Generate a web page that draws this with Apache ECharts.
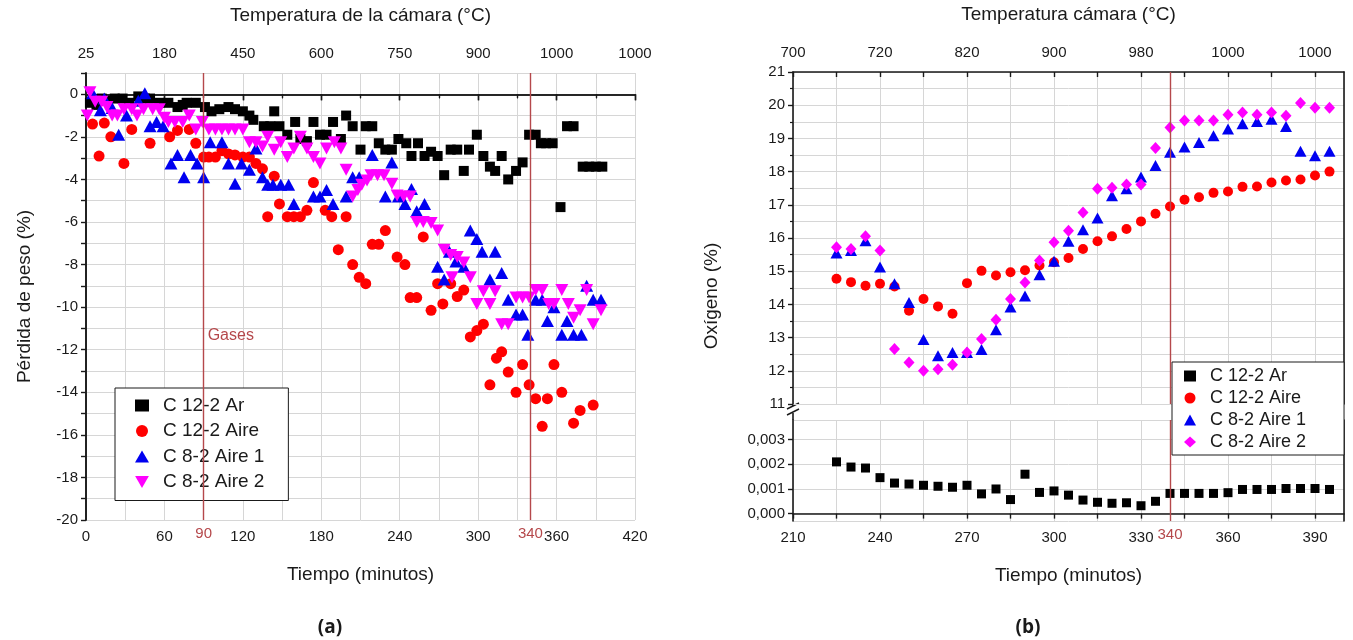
<!DOCTYPE html>
<html>
<head>
<meta charset="utf-8">
<script src="https://cdn.jsdelivr.net/npm/echarts@6/dist/echarts.min.js"></script>
<style>
  html, body { margin: 0; padding: 0; background: #fff; }
  #chart { width: 1353px; height: 640px; }
</style>
</head>
<body>
<div id="chart"></div>
<script>
// ---- Panel (a): weight loss (%) against time (min) ----
const seriesNames = ['C 12-2 Ar', 'C 12-2 Aire', 'C 8-2 Aire 1', 'C 8-2 Aire 2'];

const lossAr12 = [[3,-0.4],[8,-0.5],[12,-0.2],[16,-0.3],[22,-0.2],[28,-0.2],[33,-0.4],[40,-0.1],[45,-0.2],[49,-0.2],[56,-0.4],[63,-0.4],[70,-0.6],[74,-0.5],[77,-0.4],[84,-0.4],[91,-0.6],[96,-0.8],[102,-0.7],[109,-0.6],[114,-0.7],[120,-0.8],[125,-1.0],[128,-1.2],[136,-1.5],[141,-1.5],[144,-0.8],[148,-1.5],[154,-1.9],[160,-1.3],[164,-2.1],[169,-2.2],[174,-1.3],[179,-1.9],[184,-1.9],[189,-1.3],[195,-2.1],[199,-1.0],[204,-1.5],[210,-2.6],[214,-1.5],[219,-1.5],[224,-2.3],[229,-2.6],[234,-2.6],[239,-2.1],[245,-2.3],[249,-2.9],[254,-2.3],[259,-2.9],[264,-2.7],[269,-2.9],[274,-3.8],[279,-2.6],[284,-2.6],[289,-3.6],[293,-2.6],[299,-1.9],[304,-2.9],[309,-3.4],[313,-3.6],[318,-2.9],[323,-4.0],[329,-3.6],[334,-3.2],[339,-1.9],[344,-1.9],[348,-2.3],[352,-2.3],[357,-2.3],[363,-5.3],[368,-1.5],[373,-1.5],[380,-3.4],[385,-3.4],[390,-3.4],[395,-3.4]];

const lossAire12 = [[5,-1.4],[10,-2.9],[14,-1.35],[19,-2.0],[29,-3.25],[35,-1.65],[49,-2.3],[64,-2.0],[70,-1.7],[79,-1.65],[84,-2.3],[90,-2.95],[94,-2.95],[99,-2.95],[104,-2.65],[109,-2.8],[114,-2.85],[120,-2.95],[125,-2.95],[130,-3.25],[135,-3.5],[139,-5.75],[144,-3.85],[148,-5.15],[154,-5.75],[159,-5.75],[164,-5.75],[169,-5.45],[174,-4.15],[183,-5.45],[188,-5.75],[193,-7.3],[199,-5.75],[204,-8.0],[209,-8.6],[214,-8.9],[219,-7.05],[224,-7.05],[229,-6.4],[238,-7.65],[244,-8.0],[248,-9.55],[253,-9.55],[258,-6.7],[264,-10.15],[269,-8.9],[273,-9.85],[279,-8.9],[284,-9.5],[289,-9.2],[294,-11.4],[299,-11.1],[304,-10.8],[309,-13.65],[314,-12.4],[318,-12.1],[323,-13.05],[329,-14.0],[334,-12.7],[339,-13.65],[344,-14.3],[349,-15.6],[353,-14.3],[358,-12.7],[364,-14.0],[373,-15.45],[378,-14.85],[388,-14.6]];

const lossAire8a = [[5,0.05],[11,-0.75],[14,-0.2],[20,-0.65],[25,-1.9],[31,-1.0],[40,-0.3],[45,0.05],[49,-1.5],[54,-1.3],[59,-1.5],[65,-3.25],[70,-2.85],[75,-3.9],[80,-2.85],[85,-3.25],[90,-3.9],[95,-2.25],[104,-2.25],[109,-3.25],[114,-4.2],[119,-3.25],[125,-3.55],[130,-2.55],[135,-3.9],[139,-4.25],[143,-4.25],[149,-4.25],[155,-4.25],[159,-5.15],[174,-4.8],[179,-4.8],[184,-4.5],[189,-5.15],[199,-4.8],[204,-3.9],[209,-3.9],[219,-2.85],[229,-4.8],[234,-3.2],[239,-4.8],[244,-5.15],[249,-4.45],[253,-5.5],[259,-5.15],[269,-8.1],[274,-8.7],[278,-7.4],[283,-7.85],[289,-8.1],[294,-6.4],[299,-6.8],[303,-7.4],[309,-8.7],[313,-7.4],[318,-8.4],[323,-9.65],[329,-10.35],[334,-10.35],[338,-11.3],[344,-9.65],[349,-9.65],[353,-10.65],[358,-10.0],[364,-11.3],[368,-10.65],[373,-11.3],[379,-11.3],[383,-9.0],[388,-9.65],[394,-9.65]];

const lossAire8b = [[1,-1.0],[3,0.1],[7,-0.35],[12,-0.35],[16,-0.6],[20,-1.0],[24,-1.0],[29,-0.7],[35,-0.7],[39,-1.0],[44,-0.7],[51,-0.7],[56,-0.7],[60,-1.1],[63,-1.3],[68,-1.3],[74,-1.3],[79,-1.0],[84,-1.65],[89,-1.3],[94,-1.65],[99,-1.65],[104,-1.65],[109,-1.65],[114,-1.65],[120,-1.65],[125,-2.25],[130,-2.25],[135,-2.45],[139,-2.0],[144,-2.6],[149,-2.25],[154,-2.95],[159,-2.55],[164,-2.0],[169,-2.55],[174,-2.95],[179,-3.25],[184,-2.55],[190,-2.25],[195,-2.55],[199,-3.55],[204,-4.8],[208,-4.5],[211,-4.25],[215,-4.05],[218,-3.8],[223,-3.8],[228,-3.8],[234,-4.2],[238,-4.75],[243,-4.8],[248,-4.8],[253,-6.0],[258,-6.0],[264,-6.05],[269,-6.4],[274,-7.3],[279,-7.55],[280,-8.6],[284,-7.65],[289,-7.9],[294,-8.6],[299,-9.85],[304,-9.25],[309,-9.85],[313,-9.25],[318,-10.8],[323,-10.8],[329,-9.55],[334,-9.55],[339,-9.55],[344,-9.2],[349,-9.2],[354,-9.85],[358,-9.85],[364,-9.2],[369,-9.85],[373,-10.5],[378,-10.15],[383,-9.2],[388,-10.8],[394,-10.15]];

const lossTimeTicks = [0, 60, 120, 180, 240, 300, 360, 420];
const chamberTempA = ['25', '180', '450', '600', '750', '900', '1000', '1000'];

// ---- Panel (b): oxygen (%) against time (min) ----
const oxTime = [225,230,235,240,245,250,255,260,265,270,275,280,285,290,295,300,305,310,315,320,325,330,335,340,345,350,355,360,365,370,375,380,385,390,395];
const oxAr12 = [0.0021,0.00189,0.00185,0.00146,0.00124,0.0012,0.00115,0.00111,0.00107,0.00115,0.0008,0.001,0.00057,0.0016,0.00086,0.00092,0.00075,0.00055,0.00046,0.00042,0.00044,0.00032,0.0005,0.00082,0.00082,0.00082,0.00082,0.00085,0.00098,0.00098,0.00098,0.00102,0.00102,0.00102,0.00098];
const oxAire12 = [14.77,14.67,14.56,14.62,14.54,13.81,14.16,13.94,13.72,14.64,15.01,14.87,14.97,15.03,15.17,15.27,15.4,15.67,15.9,16.05,16.27,16.5,16.73,16.95,17.15,17.23,17.36,17.4,17.54,17.55,17.67,17.73,17.76,17.88,18.0];
const oxAire8a = [15.55,15.62,15.92,15.13,14.62,14.06,12.94,12.45,12.55,12.55,12.64,13.24,13.92,14.25,14.89,15.3,15.9,16.25,16.6,17.27,17.48,17.84,18.18,18.58,18.74,18.88,19.08,19.28,19.44,19.51,19.58,19.36,18.61,18.48,18.61];
const oxAire8b = [15.72,15.67,16.05,15.62,12.66,12.25,12.0,12.05,12.18,12.55,12.96,13.54,14.16,14.66,15.32,15.87,16.22,16.77,17.48,17.51,17.61,17.61,18.71,19.33,19.54,19.54,19.54,19.71,19.78,19.71,19.78,19.68,20.07,19.92,19.92];

const chamberTempB = ['700', '720', '820', '900', '980', '1000', '1000'];

// marker times shared by both panels
const gasStart = 90;
const gasEnd = 340;

// ---- styling ----
const FONT = '"Liberation Sans", Arial, sans-serif';
const INK = '#1a1a1a';
const RULE = '#b5484b';
const GRIDC = '#d6d6d6';
const COLORS = ['#000000', '#ff0000', '#0000f0', '#ff00ff'];
const downTriangle = 'path://M0,0 L10,0 L5,8.7 Z';

const pair = (xs, ys) => xs.map((x, i) => [x, ys[i]]);

const lineAxis = { lineStyle: { color: INK, width: 1.6 } };
const tickLabel = { color: INK, fontSize: 15, fontFamily: FONT };

const chart = echarts.init(document.getElementById('chart'), null, { renderer: 'canvas' });

const ruleLine = (xs, showLabel) => ({
  silent: true,
  symbol: 'none',
  lineStyle: { color: RULE, width: 1.4, type: 'solid' },
  label: {
    show: showLabel, position: 'start', distance: 6,
    color: RULE, fontSize: 15, fontFamily: FONT, formatter: p => String(p.value)
  },
  data: xs.map(x => ({ xAxis: x }))
});

const dot = color => ({ color: color, opacity: 1 });

const option = {
  animation: false,
  backgroundColor: '#ffffff',
  grid: [
    { left: 86, top: 73, width: 549, height: 447 },
    { left: 793, top: 72, width: 551, height: 332 },
    { left: 793, top: 420, width: 551, height: 101 }
  ],
  xAxis: [
    { // (a) bottom: time
      gridIndex: 0, type: 'value', position: 'bottom', min: 0, max: 420, interval: 60,
      axisLine: lineAxis, axisTick: { length: 6, lineStyle: { color: INK, width: 1.4 } },
      minorTick: { show: true, splitNumber: 2, length: 4, lineStyle: { color: INK, width: 1.2 } },
      splitLine: { show: true, lineStyle: { color: GRIDC } },
      minorSplitLine: { show: true, lineStyle: { color: GRIDC } },
      axisLabel: Object.assign({ margin: 9 }, tickLabel),
      name: 'Tiempo (minutos)', nameLocation: 'middle', nameGap: 45,
      nameTextStyle: { fontSize: 19, color: INK, fontFamily: FONT }
    },
    { // (a) top: chamber temperature
      gridIndex: 0, type: 'value', position: 'top', min: 0, max: 420, interval: 60,
      axisLine: lineAxis, axisTick: { inside: true, length: 6, lineStyle: { color: INK, width: 1.4 } },
      minorTick: { show: true, splitNumber: 2, length: 4, lineStyle: { color: INK, width: 1.2 } },
      splitLine: { show: false },
      axisLabel: Object.assign({ margin: 12, formatter: v => chamberTempA[lossTimeTicks.indexOf(v)] ?? '' }, tickLabel),
      name: 'Temperatura de la cámara (°C)', nameLocation: 'middle', nameGap: 48,
      nameTextStyle: { fontSize: 19, color: INK, fontFamily: FONT }
    },
    { // (b) top: chamber temperature
      gridIndex: 1, type: 'value', position: 'top', min: 210, max: 400, interval: 15,
      axisLine: lineAxis, axisTick: { inside: true, length: 5, lineStyle: { color: INK, width: 1.4 } },
      splitLine: { show: true, lineStyle: { color: GRIDC } },
      axisLabel: Object.assign({
        margin: 12, showMaxLabel: false,
        formatter: v => (v - 210) % 30 === 0 ? (chamberTempB[(v - 210) / 30] ?? '') : ''
      }, tickLabel),
      name: 'Temperatura cámara (°C)', nameLocation: 'middle', nameGap: 48,
      nameTextStyle: { fontSize: 19, color: INK, fontFamily: FONT }
    },
    { // (b) bottom: time
      gridIndex: 2, type: 'value', position: 'bottom', min: 210, max: 400, interval: 15,
      axisLine: lineAxis, axisTick: { length: 5, lineStyle: { color: INK, width: 1.4 } },
      splitLine: { show: true, lineStyle: { color: GRIDC } },
      axisLabel: Object.assign({
        margin: 9, showMaxLabel: false,
        formatter: v => (v - 210) % 30 === 0 ? String(v) : ''
      }, tickLabel),
      name: 'Tiempo (minutos)', nameLocation: 'middle', nameGap: 45,
      nameTextStyle: { fontSize: 19, color: INK, fontFamily: FONT }
    }
  ],
  yAxis: [
    { // (a) weight loss
      gridIndex: 0, type: 'value', min: -20, max: 1, interval: 1,
      axisLine: lineAxis, axisTick: { length: 5, lineStyle: { color: INK, width: 1.4 } },
      splitLine: { show: true, lineStyle: { color: GRIDC } },
      axisLabel: Object.assign({ margin: 8, formatter: v => (v <= 0 && v % 2 === 0) ? String(v) : '' }, tickLabel),
      name: 'Pérdida de peso (%)', nameLocation: 'middle', nameGap: 52, nameRotate: 90,
      nameTextStyle: { fontSize: 19, color: INK, fontFamily: FONT }
    },
    { // (a) right frame edge
      gridIndex: 0, type: 'value', position: 'right', min: -20, max: 1,
      axisLine: lineAxis, axisTick: { show: false }, axisLabel: { show: false }, splitLine: { show: false }
    },
    { // (b) oxygen, upper segment
      gridIndex: 1, type: 'value', min: 11, max: 21, interval: 1,
      axisLine: lineAxis, axisTick: { length: 5, lineStyle: { color: INK, width: 1.4 } },
      minorTick: { show: true, splitNumber: 2, length: 3, lineStyle: { color: INK, width: 1.2 } },
      splitLine: { show: true, lineStyle: { color: GRIDC } },
      minorSplitLine: { show: true, lineStyle: { color: GRIDC } },
      axisLabel: Object.assign({ margin: 8 }, tickLabel)
    },
    { // (b) upper right frame edge
      gridIndex: 1, type: 'value', position: 'right', min: 11, max: 21,
      axisLine: lineAxis, axisTick: { show: false }, axisLabel: { show: false }, splitLine: { show: false }
    },
    { // (b) oxygen, lower segment (argon run)
      gridIndex: 2, type: 'value', min: -0.0003, max: 0.0038, splitNumber: 4,
      axisLine: lineAxis, axisTick: { length: 5, lineStyle: { color: INK, width: 1.4 } },
      splitLine: { show: true, lineStyle: { color: GRIDC } },
      axisLabel: Object.assign({
        margin: 8, showMinLabel: false, showMaxLabel: false,
        formatter: v => v >= 0 ? v.toFixed(3).replace('.', ',') : ''
      }, tickLabel)
    },
    { // (b) lower right frame edge
      gridIndex: 2, type: 'value', position: 'right', min: -0.0003, max: 0.0038,
      axisLine: lineAxis, axisTick: { show: false }, axisLabel: { show: false }, splitLine: { show: false }
    }
  ],
  legend: [
    {
      left: 115, top: 388, orient: 'vertical', itemGap: 6.5,
      itemWidth: 14, itemHeight: 12,
      padding: [8, 24, 9, 20],
      borderColor: INK, borderWidth: 1, backgroundColor: '#fff',
      textStyle: { fontSize: 19, color: INK, fontFamily: FONT, padding: [0, 0, 0, 9] },
      data: seriesNames
    },
    {
      left: 1172, top: 362, orient: 'vertical', itemGap: 4,
      itemWidth: 12, itemHeight: 11,
      padding: [5, 38, 4, 12],
      borderColor: INK, borderWidth: 1, backgroundColor: '#fff',
      textStyle: { fontSize: 18, color: INK, fontFamily: FONT, padding: [0, 0, 0, 9] },
      data: [
        { name: seriesNames[0], icon: 'rect' },
        { name: seriesNames[1], icon: 'circle' },
        { name: seriesNames[2], icon: 'triangle' },
        { name: seriesNames[3], icon: 'diamond' }
      ]
    }
  ],
  series: [
    // panel (a)
    { name: seriesNames[0], type: 'scatter', xAxisIndex: 0, yAxisIndex: 0, data: lossAr12,
      symbol: 'rect', symbolSize: 10, itemStyle: dot(COLORS[0]),
      markLine: ruleLine([gasStart, gasEnd], true),
      markPoint: {
        silent: true, symbol: 'circle', symbolSize: 0,
        label: { show: true, position: 'right', distance: 4, formatter: 'Gases', color: RULE, fontSize: 16, fontFamily: FONT },
        data: [{ coord: [gasStart, -11.36] }]
      }
    },
    { name: seriesNames[1], type: 'scatter', xAxisIndex: 0, yAxisIndex: 0, data: lossAire12,
      symbol: 'circle', symbolSize: 11, itemStyle: dot(COLORS[1]) },
    { name: seriesNames[2], type: 'scatter', xAxisIndex: 0, yAxisIndex: 0, data: lossAire8a,
      symbol: 'triangle', symbolSize: [13, 12], itemStyle: dot(COLORS[2]) },
    { name: seriesNames[3], type: 'scatter', xAxisIndex: 0, yAxisIndex: 0, data: lossAire8b,
      symbol: downTriangle, symbolSize: [13, 12], itemStyle: dot(COLORS[3]) },

    // panel (b)
    { name: seriesNames[0], type: 'scatter', xAxisIndex: 3, yAxisIndex: 4, data: pair(oxTime, oxAr12),
      symbol: 'rect', symbolSize: 9, itemStyle: dot(COLORS[0]),
      markLine: ruleLine([gasEnd], true) },
    { name: seriesNames[1], type: 'scatter', xAxisIndex: 2, yAxisIndex: 2, data: pair(oxTime, oxAire12),
      symbol: 'circle', symbolSize: 10, itemStyle: dot(COLORS[1]),
      markLine: ruleLine([gasEnd], false) },
    { name: seriesNames[2], type: 'scatter', xAxisIndex: 2, yAxisIndex: 2, data: pair(oxTime, oxAire8a),
      symbol: 'triangle', symbolSize: [12, 11], itemStyle: dot(COLORS[2]) },
    { name: seriesNames[3], type: 'scatter', xAxisIndex: 2, yAxisIndex: 2, data: pair(oxTime, oxAire8b),
      symbol: 'diamond', symbolSize: [11, 12], itemStyle: dot(COLORS[3]) }
  ],
  graphic: [
    { // axis title of panel (b), centred on the whole broken axis
      type: 'text', x: 712, y: 296, rotation: Math.PI / 2,
      style: { text: 'Oxígeno (%)', fill: INK, font: '19px ' + FONT, align: 'center', verticalAlign: 'middle' }
    },
    { // break marks on the oxygen axis
      type: 'group', children: [
        { type: 'line', shape: { x1: 787, y1: 409, x2: 799, y2: 403 }, style: { stroke: INK, lineWidth: 1.5 } },
        { type: 'line', shape: { x1: 787, y1: 415, x2: 799, y2: 409 }, style: { stroke: INK, lineWidth: 1.5 } },
        { type: 'line', shape: { x1: 793, y1: 404, x2: 793, y2: 406 }, style: { stroke: INK, lineWidth: 1.6 } },
        { type: 'line', shape: { x1: 793, y1: 413, x2: 793, y2: 420 }, style: { stroke: INK, lineWidth: 1.6 } }
      ]
    },
    {
      type: 'text', x: 330, y: 628,
      style: { text: '(a)', fill: INK, font: 'bold 19px "Open Sans", ' + FONT, align: 'center', verticalAlign: 'middle' }
    },
    {
      type: 'text', x: 1028, y: 628,
      style: { text: '(b)', fill: INK, font: 'bold 19px "Open Sans", ' + FONT, align: 'center', verticalAlign: 'middle' }
    }
  ]
};

chart.setOption(option);
</script>
</body>
</html>
